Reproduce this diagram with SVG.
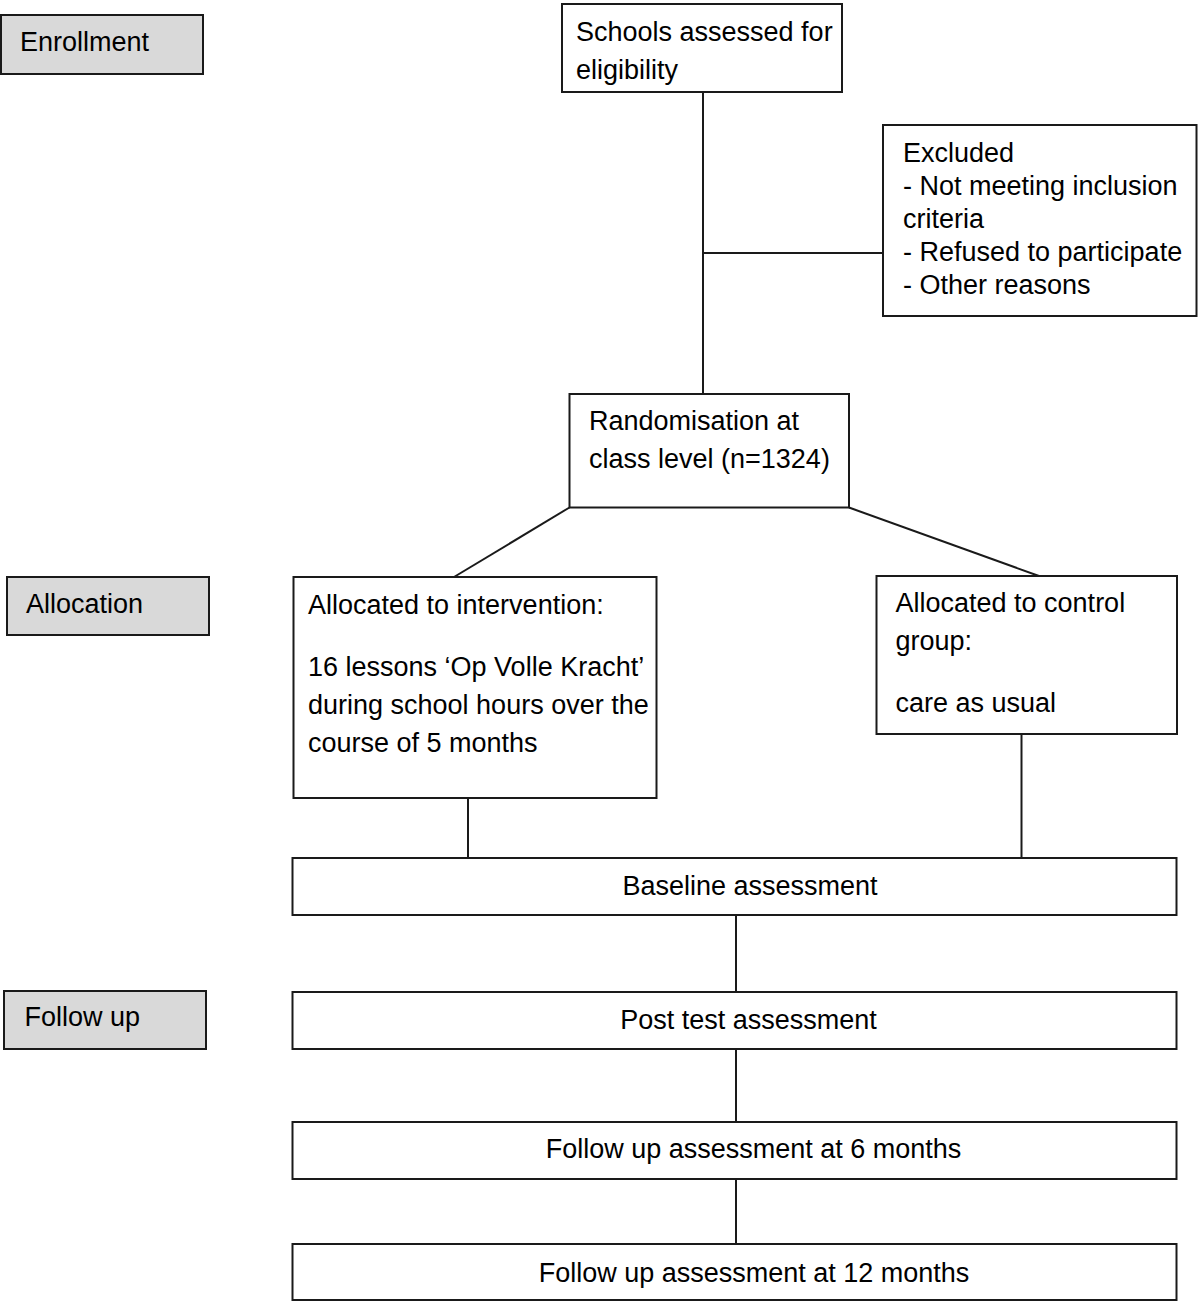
<svg xmlns="http://www.w3.org/2000/svg" width="1200" height="1302" viewBox="0 0 1200 1302">
<style>
  .box { fill: #ffffff; stroke: #1a1a1a; stroke-width: 2; }
  .lbl { fill: #d9d9d9; stroke: #1a1a1a; stroke-width: 2; }
  .t { font-family: "Liberation Sans", Arial, Helvetica, sans-serif; font-size: 27px; fill: #000000; }
  .c { text-anchor: middle; }
  .ln { stroke: #1a1a1a; stroke-width: 2; fill: none; }
</style>
<rect width="1200" height="1302" fill="#ffffff"/>

<g id="connectors">
  <line class="ln" x1="703" y1="92" x2="703" y2="394"/>
  <line class="ln" x1="703" y1="253" x2="883" y2="253"/>
  <line class="ln" x1="569.5" y1="507.5" x2="454" y2="577"/>
  <line class="ln" x1="849" y1="507.5" x2="1039" y2="576"/>
  <line class="ln" x1="468" y1="798" x2="468" y2="858"/>
  <line class="ln" x1="1021.5" y1="734" x2="1021.5" y2="858"/>
  <line class="ln" x1="736" y1="915" x2="736" y2="992"/>
  <line class="ln" x1="736" y1="1049" x2="736" y2="1122"/>
  <line class="ln" x1="736" y1="1179" x2="736" y2="1244"/>
</g>

<g id="label-enrollment">
  <rect class="lbl" x="1" y="15" width="202" height="59"/>
  <text class="t" x="20" y="51">Enrollment</text>
</g>
<g id="label-allocation">
  <rect class="lbl" x="7" y="577" width="202" height="58"/>
  <text class="t" x="26" y="613">Allocation</text>
</g>
<g id="label-followup">
  <rect class="lbl" x="4" y="991" width="202" height="58"/>
  <text class="t" x="24.5" y="1026">Follow up</text>
</g>

<g id="node-schools">
  <rect class="box" x="562" y="4" width="280" height="88"/>
  <text class="t" x="576" y="41">Schools assessed for</text>
  <text class="t" x="576" y="79">eligibility</text>
</g>

<g id="node-excluded">
  <rect class="box" x="883" y="125" width="313.5" height="191"/>
  <text class="t" x="903" y="162">Excluded</text>
  <text class="t" x="903" y="195">- Not meeting inclusion</text>
  <text class="t" x="903" y="228">criteria</text>
  <text class="t" x="903" y="261">- Refused to participate</text>
  <text class="t" x="903" y="294">- Other reasons</text>
</g>

<g id="node-randomisation">
  <rect class="box" x="569.5" y="394" width="279.5" height="113.5"/>
  <text class="t" x="589" y="430">Randomisation at</text>
  <text class="t" x="589" y="468">class level (n=1324)</text>
</g>

<g id="node-intervention">
  <rect class="box" x="293.5" y="577" width="363" height="221"/>
  <text class="t" x="308" y="614">Allocated to intervention:</text>
  <text class="t" x="308" y="676">16 lessons ‘Op Volle Kracht’</text>
  <text class="t" x="308" y="714">during school hours over the</text>
  <text class="t" x="308" y="752">course of 5 months</text>
</g>

<g id="node-control">
  <rect class="box" x="876.5" y="576" width="300.5" height="158"/>
  <text class="t" x="895.5" y="612">Allocated to control</text>
  <text class="t" x="895.5" y="650">group:</text>
  <text class="t" x="895.5" y="712">care as usual</text>
</g>

<g id="node-baseline">
  <rect class="box" x="292.5" y="858" width="884" height="57"/>
  <text class="t c" x="750" y="895">Baseline assessment</text>
</g>

<g id="node-posttest">
  <rect class="box" x="292.5" y="992" width="884" height="57"/>
  <text class="t c" x="748.5" y="1029">Post test assessment</text>
</g>

<g id="node-followup6">
  <rect class="box" x="292.5" y="1122" width="884" height="57"/>
  <text class="t c" x="753.5" y="1158">Follow up assessment at 6 months</text>
</g>

<g id="node-followup12">
  <rect class="box" x="292.5" y="1244" width="884" height="56"/>
  <text class="t c" x="754" y="1282">Follow up assessment at 12 months</text>
</g>
</svg>
